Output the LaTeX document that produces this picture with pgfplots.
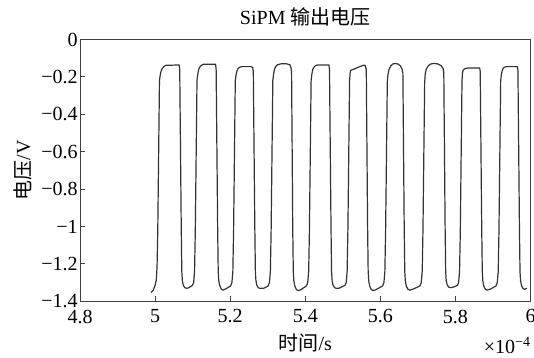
\documentclass[border=0pt]{standalone}
\usepackage{pgfplots}
\pgfplotsset{compat=1.18}
\usepackage{fontspec}
\setmainfont{Liberation Serif}
\newfontfamily\cjk{Noto Sans CJK SC}
\begin{document}
\begin{tikzpicture}
\begin{axis}[
  scale only axis,
  width=225pt, height=130.75pt,
  xmin=4.8, xmax=6.0, ymin=-1.4, ymax=0,
  xtick={4.8,5.0,5.2,5.4,5.6,5.8,6.0},
  xticklabels={4.8,5,5.2,5.4,5.6,5.8,6},
  ytick={0,-0.2,-0.4,-0.6,-0.8,-1.0,-1.2,-1.4},
  yticklabels={0,−0.2,−0.4,−0.6,−0.8,−1,−1.2,−1.4},
  tick align=inside, tick pos=left,
  major tick length=2.5pt,
  axis line style={black!75, line width=0.5pt},
  every tick/.style={black!75, line width=0.5pt},
  tick label style={font=\fontsize{10}{12}\selectfont, inner sep=1pt},
  xticklabel style={yshift=-3pt},
  xlabel={{\cjk 时间}/s},
  xlabel style={font=\fontsize{10}{12}\selectfont, at={(axis description cs:0.5,-0.16)}, anchor=center},
  ylabel={{\cjk 电压}/V},
  ylabel style={font=\fontsize{10}{12}\selectfont, at={(axis description cs:-0.128,0.5)}, anchor=center},
  clip=false,
]
\addplot[black!80, line width=0.6pt] coordinates {
(4.989,-1.353) (4.995,-1.341) (5.000,-1.314) (5.003,-1.287) (5.005,-1.22) (5.007,-1.02)
(5.0115,-0.22) (5.0135,-0.19) (5.016,-0.168) (5.019,-0.155) (5.023,-0.145) (5.029,-0.138)
(5.064,-0.136) (5.0655,-0.16) (5.0695,-1.00) (5.071,-1.24) (5.0725,-1.29) (5.075,-1.315)
(5.079,-1.327) (5.084,-1.331) (5.090,-1.327) (5.099,-1.315)
(5.1025,-1.30) (5.105,-1.24) (5.107,-1.02) (5.1115,-0.22) (5.1135,-0.185) (5.116,-0.16)
(5.119,-0.147) (5.123,-0.138) (5.129,-0.132) (5.161,-0.132) (5.1625,-0.16)
(5.1665,-1.00) (5.168,-1.24) (5.1695,-1.29) (5.172,-1.315) (5.176,-1.334) (5.181,-1.340)
(5.187,-1.335) (5.201,-1.318)
(5.2045,-1.30) (5.207,-1.24) (5.209,-1.02) (5.2135,-0.22) (5.2155,-0.19) (5.218,-0.168)
(5.221,-0.155) (5.225,-0.148) (5.231,-0.145) (5.256,-0.145) (5.260,-0.15) (5.2615,-0.17)
(5.2655,-1.00) (5.267,-1.24) (5.2685,-1.29) (5.271,-1.315) (5.275,-1.328) (5.280,-1.331)
(5.290,-1.330) (5.301,-1.318)
(5.3045,-1.30) (5.307,-1.24) (5.309,-1.02) (5.3135,-0.22) (5.3155,-0.185) (5.318,-0.16)
(5.321,-0.145) (5.326,-0.135) (5.335,-0.130) (5.350,-0.130) (5.359,-0.135) (5.362,-0.15)
(5.3635,-0.18) (5.3665,-1.00) (5.368,-1.24) (5.3695,-1.29) (5.372,-1.318) (5.376,-1.336)
(5.381,-1.343) (5.388,-1.338) (5.403,-1.318)
(5.4065,-1.30) (5.409,-1.24) (5.411,-1.02) (5.4155,-0.22) (5.4175,-0.185) (5.420,-0.16)
(5.423,-0.148) (5.427,-0.14) (5.433,-0.136) (5.463,-0.136) (5.4645,-0.16)
(5.4685,-1.00) (5.470,-1.24) (5.4715,-1.29) (5.474,-1.315) (5.478,-1.327) (5.483,-1.331)
(5.490,-1.33) (5.5055,-1.315)
(5.509,-1.30) (5.5115,-1.24) (5.5135,-1.02) (5.518,-0.22) (5.5195,-0.18) (5.521,-0.165)
(5.530,-0.158) (5.545,-0.145) (5.556,-0.137) (5.560,-0.14) (5.5625,-0.16)
(5.566,-1.00) (5.5675,-1.24) (5.569,-1.29) (5.5715,-1.318) (5.5755,-1.336) (5.5805,-1.343)
(5.588,-1.338) (5.606,-1.318)
(5.6095,-1.30) (5.612,-1.24) (5.614,-1.02) (5.6185,-0.23) (5.620,-0.19) (5.623,-0.16)
(5.628,-0.14) (5.634,-0.13) (5.640,-0.128) (5.648,-0.132) (5.654,-0.142) (5.658,-0.16)
(5.660,-0.18) (5.6635,-1.00) (5.665,-1.24) (5.6665,-1.29) (5.669,-1.318) (5.673,-1.335)
(5.678,-1.340) (5.686,-1.336) (5.7055,-1.318)
(5.709,-1.30) (5.7115,-1.24) (5.7135,-1.02) (5.718,-0.23) (5.7195,-0.185) (5.722,-0.16)
(5.727,-0.142) (5.733,-0.132) (5.741,-0.128) (5.752,-0.13) (5.762,-0.14) (5.767,-0.155)
(5.769,-0.175) (5.7725,-1.00) (5.774,-1.24) (5.7755,-1.29) (5.778,-1.312) (5.782,-1.324)
(5.787,-1.327) (5.795,-1.324) (5.805,-1.315)
(5.8085,-1.30) (5.811,-1.24) (5.813,-1.02) (5.8175,-0.22) (5.819,-0.175) (5.821,-0.162)
(5.826,-0.155) (5.835,-0.152) (5.8645,-0.152) (5.866,-0.17)
(5.870,-1.00) (5.8715,-1.24) (5.873,-1.29) (5.8755,-1.318) (5.8795,-1.335) (5.8845,-1.340)
(5.892,-1.336) (5.908,-1.318)
(5.9115,-1.30) (5.914,-1.24) (5.916,-1.02) (5.9205,-0.22) (5.9225,-0.185) (5.925,-0.163)
(5.928,-0.152) (5.932,-0.147) (5.938,-0.145) (5.965,-0.145) (5.9665,-0.165)
(5.9705,-1.00) (5.972,-1.24) (5.9735,-1.29) (5.976,-1.315) (5.980,-1.332) (5.985,-1.336)
(5.990,-1.330)
};
\node[anchor=east, font=\fontsize{10}{12}\selectfont, inner sep=0pt] at ([xshift=0.5pt]axis description cs:1,-0.168) {×10\textsuperscript{−4}};
\node[anchor=center, font=\fontsize{10}{12}\selectfont, inner sep=0pt] at (axis description cs:0.5,1.086) {SiPM {\cjk 输出电压}};
\coordinate (sw) at (rel axis cs:0,0);
\coordinate (ne) at (rel axis cs:1,1);
\end{axis}
\pgfresetboundingbox
\path ([xshift=-40pt,yshift=-28pt]sw) rectangle ([xshift=1.75pt,yshift=19.75pt]ne);
\end{tikzpicture}
\end{document}
